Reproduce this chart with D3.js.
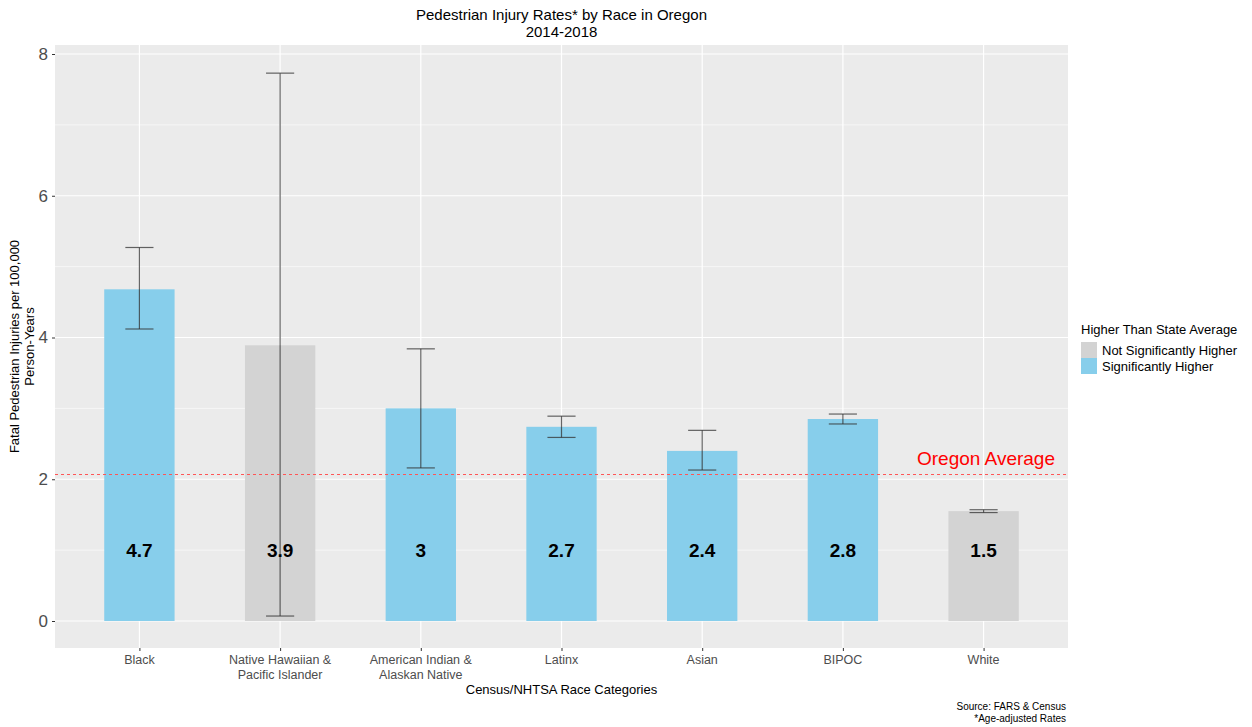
<!DOCTYPE html>
<html><head><meta charset="utf-8">
<script src="https://cdn.jsdelivr.net/npm/d3@7"></script>
<style>body{margin:0;background:#fff;font-family:"Liberation Sans",Arial,sans-serif;}</style>
</head><body>
<svg id="c" width="1252" height="727"></svg>
<script>
const categories = ["Black","Native Hawaiian &\nPacific Islander","American Indian &\nAlaskan Native","Latinx","Asian","BIPOC","White"];
const rates = [4.68,3.89,3.0,2.74,2.40,2.85,1.55];
const labels = ["4.7","3.9","3","2.7","2.4","2.8","1.5"];
const lower = [4.12,0.07,2.16,2.59,2.13,2.78,1.53];
const upper = [5.27,7.73,3.84,2.89,2.69,2.92,1.57];
const significance = ["Significantly Higher","Not Significantly Higher","Significantly Higher","Significantly Higher","Significantly Higher","Significantly Higher","Not Significantly Higher"];
const legendItems = ["Not Significantly Higher","Significantly Higher"];
const oregonAverage = 2.08;
const yTicks = [0,2,4,6,8];
const yMinor = [1,3,5,7];

const svg = d3.select("#c");
const P = {l:55, r:1068, t:45, b:648};
const color = d3.scaleOrdinal().domain(legendItems).range(["#D3D3D3","#87CEEB"]);

const x = d3.scalePoint().domain(categories).range([P.l, P.r]).padding(0.6);
const step = x.step();
const y = d3.scaleLinear().domain([0,8]).range([621,54]);

svg.append("rect").attr("x",P.l).attr("y",P.t).attr("width",P.r-P.l).attr("height",P.b-P.t).attr("fill","#EBEBEB");
const g = svg.append("g");
g.selectAll("line.minor").data(yMinor).join("line").attr("class","minor").attr("x1",P.l).attr("x2",P.r).attr("y1",d=>y(d)).attr("y2",d=>y(d)).attr("stroke","#fff").attr("stroke-width",0.6);
g.selectAll("line.major").data(yTicks).join("line").attr("class","major").attr("x1",P.l).attr("x2",P.r).attr("y1",d=>y(d)).attr("y2",d=>y(d)).attr("stroke","#fff").attr("stroke-width",1.2);
g.selectAll("line.vmaj").data(categories).join("line").attr("class","vmaj").attr("x1",d=>x(d)).attr("x2",d=>x(d)).attr("y1",P.t).attr("y2",P.b).attr("stroke","#fff").attr("stroke-width",1.2);

const bw = step*0.5, cw = step*0.2;
g.selectAll("rect.bar").data(categories).join("rect").attr("class","bar")
 .attr("x",d=>x(d)-bw/2).attr("width",bw)
 .attr("y",(d,i)=>y(rates[i])).attr("height",(d,i)=>y(0)-y(rates[i]))
 .attr("fill",(d,i)=>color(significance[i]));

const avgY = Math.round(y(oregonAverage))+0.5;
svg.append("line").attr("x1",P.l).attr("x2",P.r).attr("y1",avgY).attr("y2",avgY)
 .attr("stroke","#FF5555").attr("stroke-width",1).attr("stroke-dasharray","3,3");

const eb = g.append("g").attr("stroke","#333").attr("stroke-opacity",0.75).attr("stroke-width",1.2);
categories.forEach((c,i)=>{
  eb.append("line").attr("x1",x(c)).attr("x2",x(c)).attr("y1",y(lower[i])).attr("y2",y(upper[i]));
  eb.append("line").attr("x1",x(c)-cw/2).attr("x2",x(c)+cw/2).attr("y1",y(lower[i])).attr("y2",y(lower[i]));
  eb.append("line").attr("x1",x(c)-cw/2).attr("x2",x(c)+cw/2).attr("y1",y(upper[i])).attr("y2",y(upper[i]));
});

svg.selectAll("text.vl").data(categories).join("text").attr("class","vl").attr("x",d=>x(d)).attr("y",y(1)).attr("dy","0.35em")
 .attr("text-anchor","middle").attr("font-size",19).attr("font-weight","bold").attr("fill","#000")
 .text((d,i)=>labels[i]);

svg.append("text").attr("x",1055).attr("y",y(oregonAverage)-9).attr("text-anchor","end").attr("font-size",19).attr("fill","#FF0000").text("Oregon Average");

// Y axis
const ya = svg.append("g").attr("transform",`translate(${P.l},0)`).call(d3.axisLeft(y).tickValues(yTicks).tickSize(3).tickPadding(4));
ya.select(".domain").remove();
ya.selectAll("line").attr("stroke","#333");
ya.selectAll("text").attr("font-size",17).attr("fill","#4D4D4D").attr("font-family","Liberation Sans, Arial, sans-serif");

// X axis
const xa = svg.append("g").attr("transform",`translate(0,${P.b})`).call(d3.axisBottom(x).tickSize(3).tickFormat(""));
xa.select(".domain").remove();
xa.selectAll("line").attr("stroke","#333");
categories.forEach(c=>{
  const parts = c.split("\n");
  const t = svg.append("text").attr("x",x(c)).attr("y",664).attr("text-anchor","middle").attr("font-size",12.5).attr("fill","#4D4D4D");
  parts.forEach((p,k)=>t.append("tspan").attr("x",x(c)).attr("dy",k?15:0).text(p));
});

svg.append("text").attr("x",(P.l+P.r)/2).attr("y",694).attr("text-anchor","middle").attr("font-size",13).attr("fill","#000").text("Census/NHTSA Race Categories");
const yt = svg.append("text").attr("transform",`translate(19,${(P.t+P.b)/2}) rotate(-90)`).attr("text-anchor","middle").attr("font-size",13).attr("fill","#000");
yt.append("tspan").attr("x",0).attr("dy",0).text("Fatal Pedestrian Injuries per 100,000");
yt.append("tspan").attr("x",0).attr("dy",15).text("Person-Years");

const tt = svg.append("text").attr("x",(P.l+P.r)/2).attr("y",20).attr("text-anchor","middle").attr("font-size",15).attr("fill","#000");
tt.append("tspan").attr("x",(P.l+P.r)/2).text("Pedestrian Injury Rates* by Race in Oregon");
tt.append("tspan").attr("x",(P.l+P.r)/2).attr("dy",17).text("2014-2018");

// Legend
const lg = svg.append("g").attr("transform","translate(1081,0)");
lg.append("text").attr("x",0).attr("y",334).attr("font-size",13).attr("fill","#000").text("Higher Than State Average");
legendItems.forEach((k,i)=>{
  lg.append("rect").attr("x",0).attr("y",342+i*16).attr("width",16).attr("height",16).attr("fill",color(k));
  lg.append("text").attr("x",21).attr("y",355+i*16).attr("font-size",13).attr("fill","#000").text(k);
});

svg.append("text").attr("x",1066).attr("y",710).attr("text-anchor","end").attr("font-size",10).attr("fill","#000").text("Source: FARS & Census");
svg.append("text").attr("x",1066).attr("y",722).attr("text-anchor","end").attr("font-size",10).attr("fill","#000").text("*Age-adjusted Rates");
</script>
</body></html>
